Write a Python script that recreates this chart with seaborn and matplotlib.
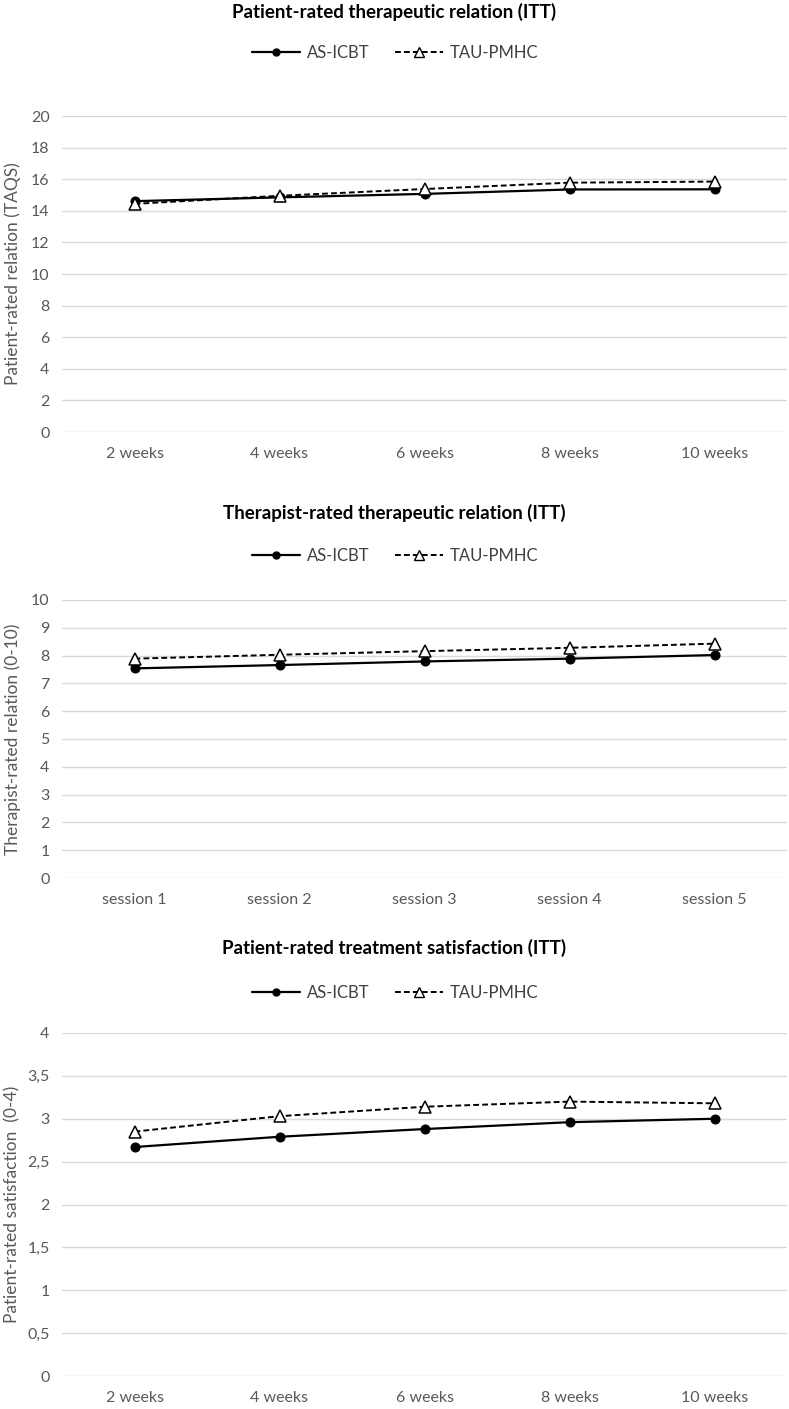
import pandas as pd
import seaborn as sns
import matplotlib.pyplot as plt
from matplotlib.lines import Line2D
from matplotlib.ticker import FuncFormatter

weeks = ['2 weeks', '4 weeks', '6 weeks', '8 weeks', '10 weeks']
sessions = ['session 1', 'session 2', 'session 3', 'session 4', 'session 5']

# patient-rated relation (TAQS)
taqs_icbt = [14.61, 14.85, 15.07, 15.35, 15.36]
taqs_tau = [14.44, 14.95, 15.38, 15.78, 15.85]

# therapist-rated relation (0-10)
ther_icbt = [7.54, 7.66, 7.79, 7.89, 8.02]
ther_tau = [7.89, 8.03, 8.16, 8.28, 8.43]

# patient-rated satisfaction (0-4)
sat_icbt = [2.67, 2.79, 2.88, 2.96, 3.00]
sat_tau = [2.85, 3.03, 3.14, 3.20, 3.18]

sns.set_theme(style='white')
plt.rcParams['font.family'] = ['Lato', 'DejaVu Sans']

fig = plt.figure(figsize=(7.89, 14.09), dpi=100)
H = 1409.0
W = 789.0


def panel(top_px, bottom_px, cats, icbt, tau, ymax, step, ylabel, title,
          title_px, legend_px, comma=False):
    ax = fig.add_axes([62 / W, 1 - bottom_px / H, 725 / W, (bottom_px - top_px) / H])
    df = pd.DataFrame({'time': cats, 'icbt': icbt, 'tau': tau})
    sns.lineplot(data=df, x='time', y='icbt', ax=ax, color='black', lw=1.6,
                 marker='o', markersize=6.5, markeredgecolor='black', sort=False)
    sns.lineplot(data=df, x='time', y='tau', ax=ax, color='black', lw=1.4,
                 linestyle=(0, (3, 1.6)), marker='^', markersize=8,
                 markerfacecolor='white', markeredgecolor='black',
                 markeredgewidth=1.1, sort=False)
    ax.set_xlim(-0.5, 4.5)
    ax.set_ylim(0, ymax)
    ticks = [i * step for i in range(int(round(ymax / step)) + 1)]
    ax.set_yticks(ticks)
    if comma:
        ax.yaxis.set_major_formatter(FuncFormatter(
            lambda v, p: ('%g' % v).replace('.', ',')))
    ax.grid(axis='y', color='#d9d9d9', lw=1)
    ax.grid(axis='x', visible=False)
    for s in ax.spines.values():
        s.set_visible(False)
    ax.tick_params(axis='both', length=0, labelsize=11.5, colors='#595959')
    ax.tick_params(axis='y', pad=9)
    ax.tick_params(axis='x', pad=11)
    ax.set_xlabel('')
    ax.set_ylabel(ylabel, fontsize=12.5, color='#595959', va='center')
    ax.yaxis.set_label_coords(-0.068, 0.5)
    fig.text(0.5, 1 - title_px / H, title, ha='center', va='center',
             fontsize=13.5, fontweight='bold', color='black')
    handles = [
        Line2D([], [], color='black', lw=1.6, marker='o', markersize=5),
        Line2D([], [], color='black', lw=1.4, linestyle=(0, (3, 1.6)),
               marker='^', markersize=6.5, markerfacecolor='white'),
    ]
    fig.legend(handles, ['AS-ICBT', 'TAU-PMHC'], loc='center',
               bbox_to_anchor=(395 / W, 1 - legend_px / H), ncol=2,
               frameon=False, fontsize=12, handlelength=2.9,
               columnspacing=1.5, handletextpad=0.4, labelcolor='#404040')
    return ax


panel(116, 432, weeks, taqs_icbt, taqs_tau, 20, 2,
      'Patient-rated relation (TAQS)',
      'Patient-rated therapeutic relation (ITT)', 12, 53)
panel(600, 878, sessions, ther_icbt, ther_tau, 10, 1,
      'Therapist-rated relation (0-10)',
      'Therapist-rated therapeutic relation (ITT)', 513, 556)
panel(1033, 1376, weeks, sat_icbt, sat_tau, 4, 0.5,
      'Patient-rated satisfaction  (0-4)',
      'Patient-rated treatment satisfaction (ITT)', 948, 993, comma=True)

fig.savefig('out.png', dpi=100)
